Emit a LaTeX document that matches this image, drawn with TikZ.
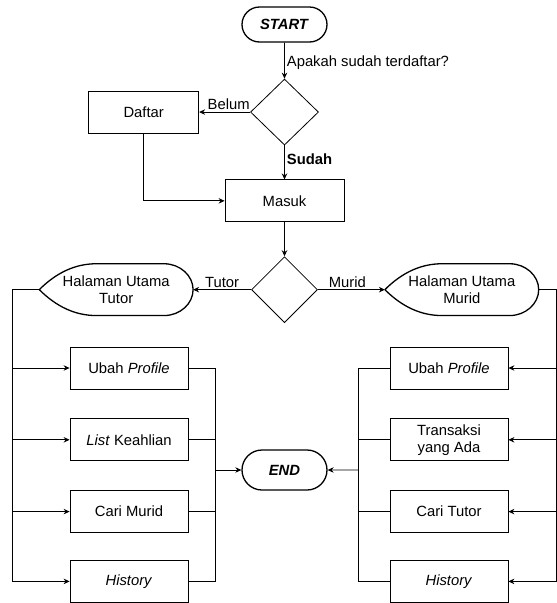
\documentclass[tikz,border=0pt]{standalone}
\usepackage{fontspec}
\setmainfont{Liberation Sans}
\usetikzlibrary{positioning,arrows.meta,calc,shapes.geometric,shapes.misc}

% border of the "display" shape (pointed left, round right)
\newcommand{\dispborder}[1]{%
  \draw[line width=1.3pt] (#1.west) .. controls +(17,-17) and +(-21,0) .. ($(#1.north west)+(57,0)$)
    -- ($(#1.north east)+(-29,0)$) .. controls +(16,0) and +(0,-14) .. (#1.east)
    .. controls +(0,14) and +(16,0) .. ($(#1.south east)+(-29,0)$)
    -- ($(#1.south west)+(57,0)$) .. controls +(-21,0) and +(17,17) .. (#1.west);}

\begin{document}
\begin{tikzpicture}[
    x=1pt, y=-1pt,
    font=\fontsize{14.8pt}{17pt}\selectfont,
    line width=0.8pt,
    term/.style={draw, rounded rectangle, line width=1.3pt, minimum width=85pt, inner sep=0pt},
    box/.style={draw, minimum width=118pt, minimum height=42pt, inner sep=0pt, align=center},
    choice/.style={draw, diamond, minimum width=68pt, minimum height=66pt, inner sep=0pt},
    disp/.style={minimum width=153pt, minimum height=51pt, inner sep=0pt, align=center},
    lbl/.style={inner sep=2pt},
    >={Stealth[length=6pt,width=5.5pt]}
]
\useasboundingbox (0,0) rectangle (557,603);

\node[term, minimum height=35pt] (start) at (284.5,24.5) {\textbf{\textit{START}}};
\node[choice, below=36pt of start] (d1) {};
\node[box, left=51pt of d1, minimum width=110pt] (daftar) {Daftar};
\node[box, below=34pt of d1, minimum width=119pt] (masuk) {Masuk};
\node[choice, below=34pt of masuk, minimum width=66pt] (d2) {};
\node[disp, left=58pt of d2] (ht) {Halaman Utama\\Tutor};
\node[disp, right=67pt of d2] (hm) {Halaman Utama\\Murid};
\dispborder{ht}
\dispborder{hm}

% tutor side
\node[box] (tUbah) at (129,368) {Ubah \textit{Profile}};
\node[box, below=29pt of tUbah] (tList) {\textit{List} Keahlian};
\node[box, below=29pt of tList] (tCari) {Cari Murid};
\node[box, below=27pt of tCari] (tHist) {\textit{History}};

% murid side
\node[box] (mUbah) at (449,368) {Ubah \textit{Profile}};
\node[box, below=29pt of mUbah] (mTrans) {Transaksi\\yang Ada};
\node[box, below=29pt of mTrans] (mCari) {Cari Tutor};
\node[box, below=27pt of mCari] (mHist) {\textit{History}};

\node[term, minimum height=40pt] (end) at (284.5,470) {\textbf{\textit{END}}};

\coordinate (lbus) at (12,0);
\coordinate (rbus) at (556,0);
\coordinate (lcol) at (215,0);
\coordinate (rcol) at (358,0);

\draw[->] (start) -- node[lbl, right, pos=0.55]{Apakah sudah terdaftar?} (d1);
\draw[->] (d1) -- node[lbl, above, pos=0.42]{Belum} (daftar);
\draw[->] (d1) -- node[lbl, right, pos=0.4]{\textbf{Sudah}} (masuk);
\draw[->] (daftar) |- (masuk);
\draw[->] (masuk) -- (d2);
\draw[->] (d2) -- node[lbl, above]{Tutor} (ht);
\draw[->] (d2) -- node[lbl, above, pos=0.44]{Murid} (hm);

\foreach \b in {tUbah,tList,tCari,tHist}
  \draw[->] (ht.west) -| (lbus |- \b) -- (\b);
\foreach \b in {mUbah,mTrans,mCari,mHist}
  \draw[->] (hm.east) -| (rbus |- \b) -- (\b);

% to END
\foreach \b in {tUbah,tList,tCari,tHist}
  \draw (\b) -| (lcol |- end);
\foreach \b in {mUbah,mTrans,mCari,mHist}
  \draw (\b) -| (rcol |- end);
\draw[->] (lcol |- end) -- (end);
\draw[->] (rcol |- end) -- (end);
\end{tikzpicture}
\end{document}
